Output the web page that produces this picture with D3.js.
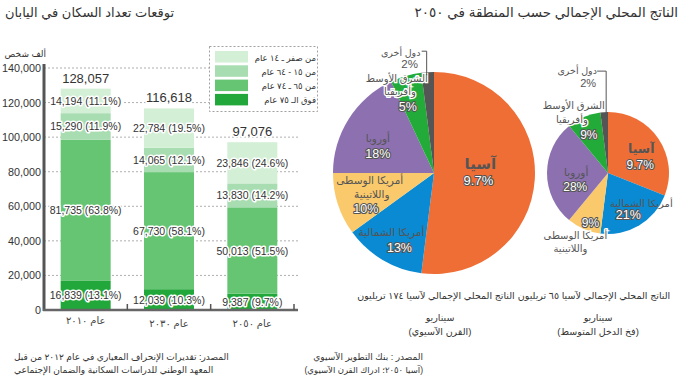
<!DOCTYPE html>
<html><head><meta charset="utf-8">
<script src="https://cdn.jsdelivr.net/npm/d3@7"></script>
<style>
body{margin:0;background:#fff}
svg{display:block;font-family:"Liberation Sans",Arial,"DejaVu Sans",sans-serif}
</style>
</head><body><svg id="c" width="680" height="380"></svg>
<script>
// ---------- DATA ----------
const years = ["عام ٢٠١٠", "عام ٢٠٣٠", "عام ٢٠٥٠"];
const totals = [128057, 116618, 97076];
// stacked bottom → top
const groupNames = ["فوق الـ ٧٥ عام", "من ٦٥ ـ ٧٤ عام", "من ١٥ - ٦٤ عام", "من صفر ـ ١٤ عام"];
const groupA = [16839, 12039, 9387];   const pctA = [13.1, 10.3, 9.7];
const groupB = [81735, 67730, 50013];  const pctB = [63.8, 58.1, 51.5];
const groupC = [15290, 14065, 13830];  const pctC = [11.9, 12.1, 14.2];
const groupD = [14194, 22784, 23846];  const pctD = [11.1, 19.5, 24.6];
const yTicks = [0, 20000, 40000, 60000, 80000, 100000, 120000, 140000];

const regions = ["آسيا", "أمريكا الشمالية", "أمريكا الوسطى واللاتينية", "أوروبا", "الشرق الأوسط وأفريقيا", "دول أخرى"];
const shareAsianCentury = [52, 13, 10, 18, 5, 2];
const labelsAsianCentury = ["9.7%", "13%", "10%", "18%", "5%", "2%"];
const shareMiddleTrap = [31, 21, 9, 28, 9, 2];
const labelsMiddleTrap = ["9.7%", "21%", "9%", "28%", "9%", "2%"];

// ---------- STYLE ----------
const greens = ["#22a83a", "#66c573", "#a8dcb1", "#d3efd6"];
const pieColors = ["#ef6e36", "#0a8ad2", "#f9c96b", "#8c70b0", "#23ab3a", "#555555"];
const svg = d3.select("#c");

// ---------- BAR CHART ----------
const y = d3.scaleLinear().domain([0, 140000]).range([310, 68]);
const x = d3.scaleBand().domain(years).range([44, 294]).paddingInner(0.4).paddingOuter(0.2);

svg.append("text").attr("x", 5).attr("y", 17).attr("font-size", 13).attr("fill", "#333")
  .text("توقعات تعداد السكان في اليابان");

// grid
svg.append("g").selectAll("line").data(yTicks.filter(d => d > 0)).join("line")
  .attr("x1", 44).attr("x2", 298).attr("y1", d => y(d)).attr("y2", d => y(d))
  .attr("stroke", "#9a9a9a").attr("stroke-width", 0.8).attr("stroke-dasharray", "2,2");

// y axis
const yAxis = d3.axisLeft(y).tickValues(yTicks).tickFormat(d3.format(",")).tickSize(0).tickPadding(3);
const yg = svg.append("g").attr("transform", "translate(44,0)").call(yAxis);
yg.select(".domain").remove();
yg.selectAll("text").attr("font-size", 10.8).attr("fill", "#333").attr("font-family", "Liberation Sans, Arial, sans-serif");
svg.append("line").attr("x1", 44).attr("x2", 44).attr("y1", 64).attr("y2", y(0)+1)
  .attr("stroke", "#555").attr("stroke-width", 3);
svg.append("text").attr("x", 46).attr("y", 57).attr("text-anchor", "end").attr("font-size", 9).attr("fill", "#333")
  .text("ألف شخص");

// stack
const rows = years.map((yr, i) => ({year: yr, a: groupA[i], b: groupB[i], c: groupC[i], d: groupD[i],
  pa: pctA[i], pb: pctB[i], pc: pctC[i], pd: pctD[i]}));
const keys = ["a", "b", "c", "d"];
const stacked = d3.stack().keys(keys)(rows);
const layers = svg.append("g").selectAll("g").data(stacked).join("g").attr("fill", (d, i) => greens[i]);
layers.selectAll("rect").data(d => d).join("rect")
  .attr("x", d => x(d.data.year)).attr("width", x.bandwidth())
  .attr("y", d => y(d[1])).attr("height", d => y(d[0]) - y(d[1]));

// legend (drawn over grid)
const lg = svg.append("g");
lg.append("rect").attr("x", 209.5).attr("y", 46.5).attr("width", 108).attr("height", 65)
  .attr("fill", "#fff").attr("stroke", "#888").attr("stroke-width", 0.8).attr("stroke-dasharray", "2,2");
const legendOrder = [3, 2, 1, 0];
legendOrder.forEach((gi, r) => {
  lg.append("rect").attr("x", 215).attr("y", 51 + r * 14.3).attr("width", 33).attr("height", 11.5).attr("fill", greens[gi]);
  lg.append("text").attr("x", 316).attr("y", 60.5 + r * 14.3).attr("text-anchor", "end")
    .attr("font-size", 8.5).attr("fill", "#333").text(groupNames[gi]);
});

// segment labels
const fmt = d3.format(",");
const lab = svg.append("g").attr("font-size", 10.5).attr("fill", "#333").attr("text-anchor", "middle")
  .attr("stroke", "#fff").attr("stroke-width", 3).attr("paint-order", "stroke").attr("stroke-linejoin", "round");
stacked.forEach((layer, li) => {
  const k = keys[li];
  layer.forEach(d => {
    lab.append("text").attr("x", x(d.data.year) + x.bandwidth() / 2)
      .attr("y", (y(d[0]) + y(d[1])) / 2 + 4)
      .text(fmt(d.data[k]) + " (" + d3.format(".1f")(d.data["p" + k]) + "%)");
  });
});
// totals
svg.append("g").selectAll("text").data(years).join("text")
  .attr("x", d => x(d) + x.bandwidth() / 2).attr("y", (d, i) => y(totals[i]) - 6)
  .attr("text-anchor", "middle").attr("font-size", 13).attr("fill", "#333")
  .attr("stroke", "#fff").attr("stroke-width", 3).attr("paint-order", "stroke")
  .text((d, i) => fmt(totals[i]));

// x axis
svg.append("line").attr("x1", 43).attr("x2", 298).attr("y1", y(0)).attr("y2", y(0))
  .attr("stroke", "#666").attr("stroke-width", 2.5);
svg.append("g").selectAll("line").data(years).join("line")
  .attr("x1", d => x(d) + x.bandwidth() + x.step() * x.paddingInner() / 2)
  .attr("x2", d => x(d) + x.bandwidth() + x.step() * x.paddingInner() / 2)
  .attr("y1", y(0)).attr("y2", y(0) - 6).attr("stroke", "#555").attr("stroke-width", 1.5);
svg.append("g").selectAll("text").data(years).join("text")
  .attr("x", d => x(d) + x.bandwidth() / 2).attr("y", (d, i) => i === 0 ? 324 : 327)
  .attr("text-anchor", "middle").attr("font-size", 10).attr("fill", "#444").text(d => d);

// source note
const note = svg.append("g").attr("font-size", 9).attr("fill", "#333");
note.append("text").attr("x", 14).attr("y", 360).text("المصدر: تقديرات الإنحراف المعياري في عام ٢٠١٢ من قبل");
note.append("text").attr("x", 14).attr("y", 373).text("المعهد الوطني للدراسات السكانية والضمان الإجتماعي");

// ---------- PIES ----------
svg.append("text").attr("x", 678).attr("y", 17).attr("text-anchor", "end").attr("font-size", 13.5).attr("fill", "#333")
  .text("الناتج المحلي الإجمالي حسب المنطقة في ٢٠٥٠");

const pieGen = d3.pie().sort(null).value(d => d);

function drawPie(cx, cy, r, shares, pctLabels, layout) {
  const g = svg.append("g").attr("transform", `translate(${cx},${cy})`);
  const arcs = pieGen(shares);
  const arc = d3.arc().innerRadius(0).outerRadius(r);
  g.selectAll("path").data(arcs).join("path").attr("d", arc).attr("fill", (d, i) => pieColors[i]);
  arcs.forEach((a, i) => {
    const L = layout[i];
    const c = d3.arc().innerRadius(L.rho * r).outerRadius(L.rho * r).centroid(a);
    if (L.leader) {
      g.append("path").attr("d", d3.line()(L.leader.map(pt => [c[0] + pt[0], c[1] + pt[1]])))
        .attr("fill", "none").attr("stroke", "#555").attr("stroke-width", 1);
    }
    L.name.forEach(line => {
      g.append("text").attr("x", c[0] + line[1]).attr("y", c[1] + line[2])
        .attr("text-anchor", "middle").attr("dominant-baseline", "central")
        .attr("font-size", L.nameSize || 10).attr("font-weight", L.bold ? "bold" : "normal")
        .attr("fill", "#555")
        .attr("stroke", L.halo ? "#fff" : "none").attr("stroke-width", 2.5).attr("paint-order", "stroke")
        .text(line[0]);
    });
    const p = g.append("text").attr("x", c[0] + L.pct[0]).attr("y", c[1] + L.pct[1])
      .attr("text-anchor", "middle").attr("dominant-baseline", "central")
      .attr("font-size", L.pctSize || 12.5).text(pctLabels[i]);
    if (L.outside) p.attr("fill", "#555");
    else p.attr("fill", "#fff").attr("stroke", "#555").attr("stroke-width", 2.2).attr("paint-order", "stroke").attr("stroke-linejoin", "round");
  });
}

const ME = ["الشرق الأوسط", "وأفريقيا"];
const LA = ["أمريكا الوسطى", "واللاتينية"];

drawPie(434, 173, 101, shareAsianCentury, labelsAsianCentury, [
  {rho: 0.48, name: [[regions[0], -2, -13]], pct: [-4, 4], nameSize: 15, bold: true, pctSize: 13},
  {rho: 0.75, name: [[regions[1], -4, -6]], pct: [4, 10], nameSize: 10.5},
  {rho: 0.70, name: [[LA[0], 3, -15], [LA[1], 5, -1]], pct: [-1, 14], nameSize: 10.5},
  {rho: 0.60, name: [[regions[3], -5, -3]], pct: [-5, 13], nameSize: 10.5},
  {rho: 0.68, name: [[ME[0], -18, -29], [ME[1], -15, -16]], pct: [-7, 0], nameSize: 10, halo: true},
  {rho: 1.0, name: [[regions[5], -27, -20]], pct: [-18, -8], nameSize: 9.5, outside: true, pctSize: 11.5,
   leader: [[-6, -21], [-1, -21], [-1, 3]]}
]);

drawPie(608, 173, 61, shareMiddleTrap, labelsMiddleTrap, [
  {rho: 0.58, name: [[regions[0], 4, -4]], pct: [3, 12], nameSize: 12.5, bold: true, pctSize: 12},
  {rho: 0.75, name: [[regions[1], 10, -9]], pct: [-3, 3], nameSize: 10},
  {rho: 0.85, name: [[LA[0], -12, 15], [LA[1], -17, 28]], pct: [3, 2], nameSize: 10, halo: true, pctSize: 12},
  {rho: 0.57, name: [[regions[3], 3, -1]], pct: [2, 14], nameSize: 10.5, pctSize: 12},
  {rho: 0.75, name: [[ME[0], -16, -26], [ME[1], -18, -12]], pct: [-1, 4], nameSize: 10, halo: true, pctSize: 12},
  {rho: 1.0, name: [[regions[5], -27, -42]], pct: [-16, -29], nameSize: 9.5, outside: true, pctSize: 11,
   leader: [[-7, -41], [2, -41], [2, 1]]}
]);

// pie captions
const cap = svg.append("g").attr("font-size", 9.5).attr("fill", "#333").attr("text-anchor", "middle");
cap.append("text").attr("x", 436).attr("y", 299).text("الناتج المحلي الإجمالي لآسيا ١٧٤ تريليون");
cap.append("text").attr("x", 594).attr("y", 299).text("الناتج المحلي الإجمالي لآسيا ٦٥ تريليون");
cap.append("text").attr("x", 440).attr("y", 321).text("سيناريو");
cap.append("text").attr("x", 440).attr("y", 335).text("(القرن الآسيوي)");
cap.append("text").attr("x", 598).attr("y", 321).text("سيناريو");
cap.append("text").attr("x", 598).attr("y", 335).text("(فخ الدخل المتوسط)");
const src = svg.append("g").attr("font-size", 9).attr("fill", "#333").attr("text-anchor", "end");
src.append("text").attr("x", 423).attr("y", 360).text("المصدر : بنك التطوير الآسيوي");
src.append("text").attr("x", 423).attr("y", 373).attr("font-size", 8.5).text("(آسيا ٢٠٥٠؛ ادراك القرن الآسيوي)");
</script>
</body></html>
